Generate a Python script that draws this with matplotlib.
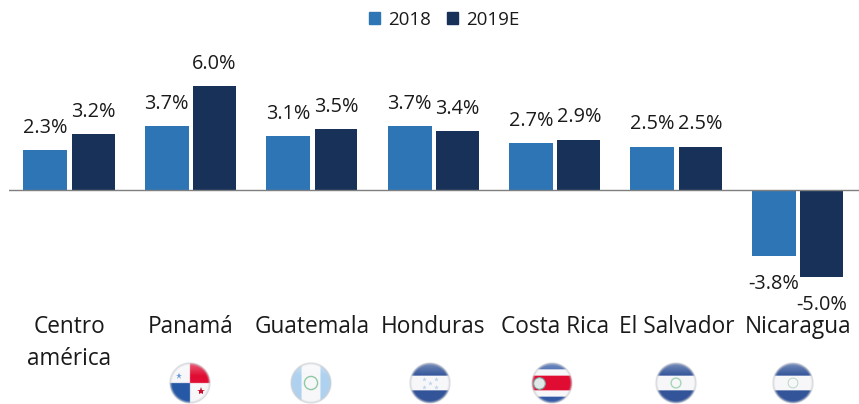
import numpy as np
import matplotlib
matplotlib.use("Agg")
import matplotlib.pyplot as plt
from matplotlib.patches import Patch

plt.rcParams['font.family'] = ['Open Sans', 'DejaVu Sans']

categories = ['Centro\namérica', 'Panamá', 'Guatemala', 'Honduras', 'Costa Rica', 'El Salvador', 'Nicaragua']
v2018 = [2.3, 3.7, 3.1, 3.7, 2.7, 2.5, -3.8]
v2019 = [3.2, 6.0, 3.5, 3.4, 2.9, 2.5, -5.0]
series_names = ['2018', '2019E']
c2018 = '#2E75B6'
c2019 = '#183158'

W, H = 859, 404
fig = plt.figure(figsize=(W/100, H/100), dpi=100)
ax = fig.add_axes([8.5/W, 1-312/H, 850/W, 312/H])

x = np.arange(len(categories))
b1 = ax.bar(x-0.197, v2018, 0.362, color=c2018)
b2 = ax.bar(x+0.197, v2019, 0.352, color=c2019)
ax.axhline(0, color='#7f7f7f', lw=1)
ax.set_xlim(-0.5, 6.5)
ax.set_ylim(-7.03, 10.95)
ax.set_yticks([])
ax.set_xticks(x)
ax.set_xticklabels(categories, fontsize=16.3, color='#1a1a1a', linespacing=1.42)
ax.tick_params(axis='x', length=0, pad=2.2)
for s in ax.spines.values():
    s.set_visible(False)

# value labels
for bars, vals in ((b1, v2018), (b2, v2019)):
    for r, v in zip(bars, vals):
        cx = r.get_x() + r.get_width()/2
        off = 16 if v > 0 else -20
        ax.annotate(f'{v:.1f}%', (cx, v), xytext=(0, off), textcoords='offset points',
                    ha='center', va='center', fontsize=14.3, color='#1a1a1a')

handles = [Patch(color=c2018), Patch(color=c2019)]
fig.legend(handles, series_names, loc='center', bbox_to_anchor=(444/W, 1-20/H), ncol=2, frameon=False,
           fontsize=13.5, handlelength=0.62, handleheight=0.62, handletextpad=0.4, columnspacing=0.85,
           labelcolor='#1a1a1a')

# round glossy flags, pixel coordinates
ov = fig.add_axes([0, 0, 1, 1])
ov.patch.set_alpha(0)
ov.axis('off')

blue = (0.20, 0.33, 0.60)
white = (0.97, 0.97, 0.98)
red = (0.88, 0.05, 0.2)
sky = (0.68, 0.82, 0.94)

def flag(name, n=120):
    u, v = np.meshgrid(np.linspace(-1, 1, n), np.linspace(-1, 1, n))
    img = np.ones((n, n, 3))*white
    if name == 'pa':
        img[(u > 0) & (v < 0)] = red
        img[(u < 0) & (v > 0)] = (0.15, 0.35, 0.65)
    elif name == 'gt':
        img[np.abs(u) > 0.45] = sky
    elif name == 'cr':
        img[np.abs(v) > 0.66] = (0.2, 0.35, 0.65)
        img[np.abs(v) < 0.36] = red
    else:
        img[np.abs(v) > 0.36] = blue
    # pale gloss on top, soft grey rim
    r = np.hypot(u, v)
    gloss = np.clip(0.55*(-v-0.35), 0, 0.45)[..., None]
    img = img*(1-gloss) + gloss
    edge = np.clip((r-0.86)/0.12, 0, 1)[..., None]
    img = img*(1-edge) + np.array([0.80, 0.81, 0.83])*edge
    alpha = np.clip((1-r)/0.04, 0, 1)
    return np.dstack([img, alpha])

flags = [('pa', 190), ('gt', 311), ('hn', 430), ('cr', 552), ('sv', 676), ('ni', 793)]
for name, cx in flags:
    ov.imshow(flag(name), extent=(cx-21, cx+21, 404, 362), interpolation='bilinear', zorder=2)
ov.set_xlim(0, W)
ov.set_ylim(H, 0)
ov.set_aspect('auto')
# emblems
ov.plot([179], [376], marker='*', ms=5, color='#6a9ad6', mew=0, zorder=3)
ov.plot([201], [391], marker='*', ms=6, color='#c8102e', mew=0, zorder=3)
ov.scatter([311], [383], s=90, facecolor='none', edgecolor='#8fc9a4', lw=1, zorder=3)
ov.plot([424, 436, 430, 424, 436], [379, 379, 383, 387, 387], ls='', marker='*', ms=3.5, mew=0, color='#bcd3ec', zorder=3)
ov.scatter([539], [383], s=70, facecolor='#dfe9e8', edgecolor='#7fa39d', lw=0.8, zorder=3)
ov.scatter([676], [383], s=50, facecolor='none', edgecolor='#a5d6b6', lw=1, zorder=3)
ov.scatter([793], [383], s=50, facecolor='none', edgecolor='#b7d8c5', lw=0.7, zorder=3)

fig.savefig('out.png', dpi=100)
